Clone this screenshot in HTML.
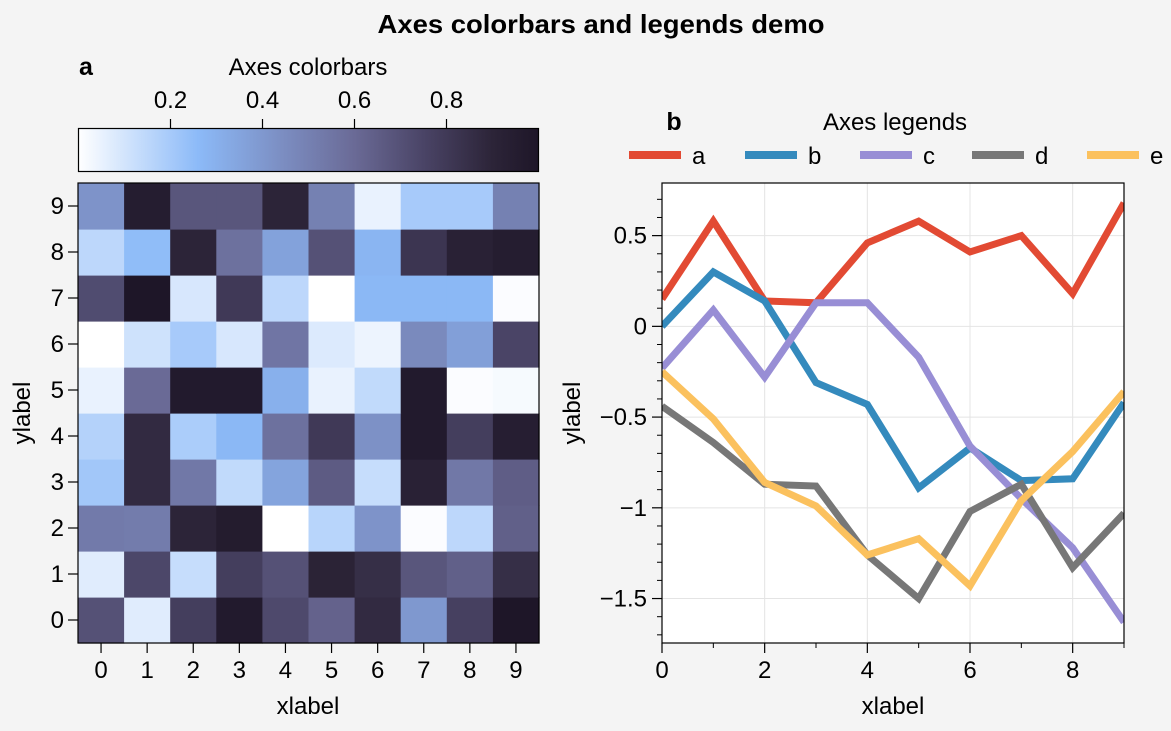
<!DOCTYPE html>
<html><head><meta charset="utf-8">
<style>
html,body{margin:0;padding:0;background:#f4f4f4;}
svg{display:block;font-family:"Liberation Sans",sans-serif;}
</style></head>
<body>
<svg id="fig" width="1171" height="731" viewBox="0 0 1171 731" xmlns="http://www.w3.org/2000/svg">
<defs>
<linearGradient id="cmap" x1="0" x2="1" y1="0" y2="0">
<stop offset="0" stop-color="#ffffff"/><stop offset="0.26" stop-color="#8cbaf8"/><stop offset="0.45" stop-color="#7b8cc0"/><stop offset="0.6" stop-color="#6a6a96"/><stop offset="0.75" stop-color="#4a4466"/><stop offset="0.9" stop-color="#2c2438"/><stop offset="1" stop-color="#1e1628"/>
</linearGradient>
</defs>
<text x="601" y="33" text-anchor="middle" font-size="26" font-weight="bold" textLength="447" lengthAdjust="spacingAndGlyphs">Axes colorbars and legends demo</text>
<g id="left"></g>
<g id="right"></g>
</svg>
<script>
const heatRows = [ // row index = y value 0..9
 [0.70,0.07,0.78,0.97,0.73,0.63,0.87,0.40,0.77,1.00],
 [0.07,0.74,0.13,0.78,0.70,0.91,0.85,0.68,0.64,0.85],
 [0.53,0.52,0.90,0.96,0.00,0.16,0.42,0.01,0.15,0.64],
 [0.21,0.87,0.54,0.14,0.35,0.66,0.13,0.92,0.54,0.65],
 [0.17,0.87,0.19,0.27,0.57,0.80,0.43,0.97,0.78,0.94],
 [0.05,0.60,0.97,0.97,0.30,0.05,0.14,0.97,0.01,0.02],
 [0.00,0.11,0.20,0.09,0.55,0.08,0.04,0.46,0.37,0.75],
 [0.72,1.00,0.09,0.80,0.15,0.00,0.27,0.27,0.27,0.01],
 [0.15,0.25,0.90,0.57,0.36,0.70,0.28,0.82,0.92,0.95],
 [0.42,0.95,0.68,0.68,0.90,0.50,0.05,0.20,0.20,0.50]
];
const heatTicks = [0,1,2,3,4,5,6,7,8,9];
const cbarTicks = [0.2,0.4,0.6,0.8];
const lineX = [0,1,2,3,4,5,6,7,8,9];
const seriesNames = ['a','b','c','d','e'];
const seriesA = [0.15,0.58,0.14,0.13,0.46,0.58,0.41,0.50,0.18,0.68];
const seriesB = [0.0,0.30,0.14,-0.31,-0.43,-0.89,-0.67,-0.85,-0.84,-0.42];
const seriesC = [-0.23,0.09,-0.28,0.13,0.13,-0.17,-0.66,-0.95,-1.22,-1.63];
const seriesD = [-0.44,-0.64,-0.87,-0.88,-1.26,-1.50,-1.02,-0.87,-1.33,-1.03];
const seriesE = [-0.25,-0.51,-0.86,-0.99,-1.26,-1.17,-1.43,-0.96,-0.69,-0.36];
const yTicks = [0.5,0,-0.5,-1,-1.5];
const xTicks = [0,2,4,6,8];

const NS='http://www.w3.org/2000/svg';
const FS=24;
function mk(parent,tag,attrs,text){const e=document.createElementNS(NS,tag);for(const k in attrs)e.setAttribute(k,attrs[k]);if(text!==undefined)e.textContent=text;parent.appendChild(e);return e;}
const stops=[[0,[255,255,255]],[0.26,[140,186,248]],[0.45,[123,140,192]],[0.6,[106,106,150]],[0.75,[74,68,102]],[0.9,[44,36,56]],[1,[30,22,40]]];
function cmap(v){v=Math.max(0,Math.min(1,v));for(let i=1;i<stops.length;i++){if(v<=stops[i][0]){const a=stops[i-1],b=stops[i];const t=(v-a[0])/(b[0]-a[0]);const c=a[1].map((x,j)=>Math.round(x+(b[1][j]-x)*t));return 'rgb('+c.join(',')+')';}}return 'rgb(30,22,40)';}
function fmt(v){return (v<0?'\u2212':'')+String(Math.abs(v));}

// LEFT
const L=document.getElementById('left');
const hx0=78,hx1=539,hy0=183,hy1=643;
const cw=(hx1-hx0)/10, ch=(hy1-hy0)/10;
const hX=i=>hx0+cw*(i+0.5), hY=j=>hy1-ch*(j+0.5);
let t=mk(L,'text',{x:86,y:75,'font-size':25,'font-weight':'bold','text-anchor':'middle'},'a');

t=mk(L,'text',{x:308,y:75,'font-size':FS,'text-anchor':'middle'},'Axes colorbars');

const cb=mk(L,'rect',{x:78.5,y:128.5,width:460,height:43,fill:'url(#cmap)',stroke:'#000','stroke-width':1.2});

const cbX=v=>78.5+460*v;
cbarTicks.forEach(v=>{const x=cbX(v);mk(L,'line',{x1:x,x2:x,y1:119,y2:128,stroke:'#000','stroke-width':1.2});
 const e=mk(L,'text',{x:x,y:108,'font-size':FS,'text-anchor':'middle'},v.toFixed(1));
 });
heatRows.forEach((row,j)=>row.forEach((v,i)=>{
 const r=mk(L,'rect',{x:hX(i)-cw/2,y:hY(j)-ch/2,width:cw+0.6,height:ch+0.6,fill:cmap(v)});
 }));
mk(L,'rect',{x:hx0,y:hy0,width:hx1-hx0,height:hy1-hy0,fill:'none',stroke:'#000','stroke-width':1.2});
heatTicks.forEach(i=>{
 const x=hX(i);mk(L,'line',{x1:x,x2:x,y1:hy1,y2:hy1+10,stroke:'#000','stroke-width':1.2});
 let e=mk(L,'text',{x:x,y:678,'font-size':FS,'text-anchor':'middle'},String(i));
 
 const y=hY(i);mk(L,'line',{x1:hx0-10,x2:hx0,y1:y,y2:y,stroke:'#000','stroke-width':1.2});
 e=mk(L,'text',{x:hx0-14,y:y+8,'font-size':FS,'text-anchor':'end'},String(i));
 
});
t=mk(L,'text',{x:308,y:714,'font-size':FS,'text-anchor':'middle'},'xlabel');

t=mk(L,'text',{x:30,y:413,'font-size':FS,'text-anchor':'middle',transform:'rotate(-90 30 413)'},'ylabel');


// RIGHT
const R=document.getElementById('right');
const px0=662,px1=1124,py0=183,py1=643;
const xs=v=>px0+(v-0)*(px1-px0)/9;
const ymax=0.79,ymin=-1.745;
const ys=v=>py0+(ymax-v)*(py1-py0)/(ymax-ymin);
mk(R,'rect',{x:px0,y:py0,width:px1-px0,height:py1-py0,fill:'#fff'});
xTicks.forEach(v=>mk(R,'line',{x1:xs(v),x2:xs(v),y1:py0,y2:py1,stroke:'#e4e4e4','stroke-width':1}));
yTicks.forEach(v=>mk(R,'line',{x1:px0,x2:px1,y1:ys(v),y2:ys(v),stroke:'#e4e4e4','stroke-width':1}));
const colors=['#e24a33','#348abd','#988ed5','#777777','#fbc15e'];
const allSeries=[seriesA,seriesB,seriesC,seriesD,seriesE];
const clip=mk(R,'clipPath',{id:'pc'});mk(clip,'rect',{x:px0,y:py0,width:px1-px0,height:py1-py0});
allSeries.forEach((s,k)=>{
 const p=mk(R,'polyline',{points:s.map((v,i)=>xs(lineX[i])+','+ys(v)).join(' '),fill:'none',stroke:colors[k],'stroke-width':7,'stroke-linejoin':'miter','clip-path':'url(#pc)'});
 
});
mk(R,'rect',{x:px0,y:py0,width:px1-px0,height:py1-py0,fill:'none',stroke:'#000','stroke-width':1.2});
xTicks.forEach(v=>{const x=xs(v);mk(R,'line',{x1:x,x2:x,y1:py1,y2:py1+10,stroke:'#000','stroke-width':1.2});
 const e=mk(R,'text',{x:x,y:678,'font-size':FS,'text-anchor':'middle'},String(v));
 });
for(let v=1;v<=9;v+=2){const x=xs(v);mk(R,'line',{x1:x,x2:x,y1:py1,y2:py1+5,stroke:'#000','stroke-width':1});}
yTicks.forEach(v=>{const y=ys(v);mk(R,'line',{x1:px0-10,x2:px0,y1:y,y2:y,stroke:'#000','stroke-width':1.2});
 const e=mk(R,'text',{x:px0-15,y:y+8,'font-size':FS,'text-anchor':'end'},fmt(v));
 });
for(let v=0.7;v>-1.75;v-=0.1){const r=Math.round(v*10);if(r%5===0)continue;const y=ys(r/10);mk(R,'line',{x1:px0-5,x2:px0,y1:y,y2:y,stroke:'#000','stroke-width':1});}
t=mk(R,'text',{x:893,y:714,'font-size':FS,'text-anchor':'middle'},'xlabel');

t=mk(R,'text',{x:580,y:413,'font-size':FS,'text-anchor':'middle',transform:'rotate(-90 580 413)'},'ylabel');

t=mk(R,'text',{x:674,y:130,'font-size':25,'font-weight':'bold','text-anchor':'middle'},'b');

t=mk(R,'text',{x:895,y:130,'font-size':FS,'text-anchor':'middle'},'Axes legends');

const legX=[629,745,860,972,1087];
seriesNames.forEach((n,k)=>{
 const g=mk(R,'g',{});
 
 
 mk(g,'line',{x1:legX[k],x2:legX[k]+52,y1:155,y2:155,stroke:colors[k],'stroke-width':8});
 mk(g,'text',{x:legX[k]+63,y:164,'font-size':FS},n);
});
</script>
</body></html>
